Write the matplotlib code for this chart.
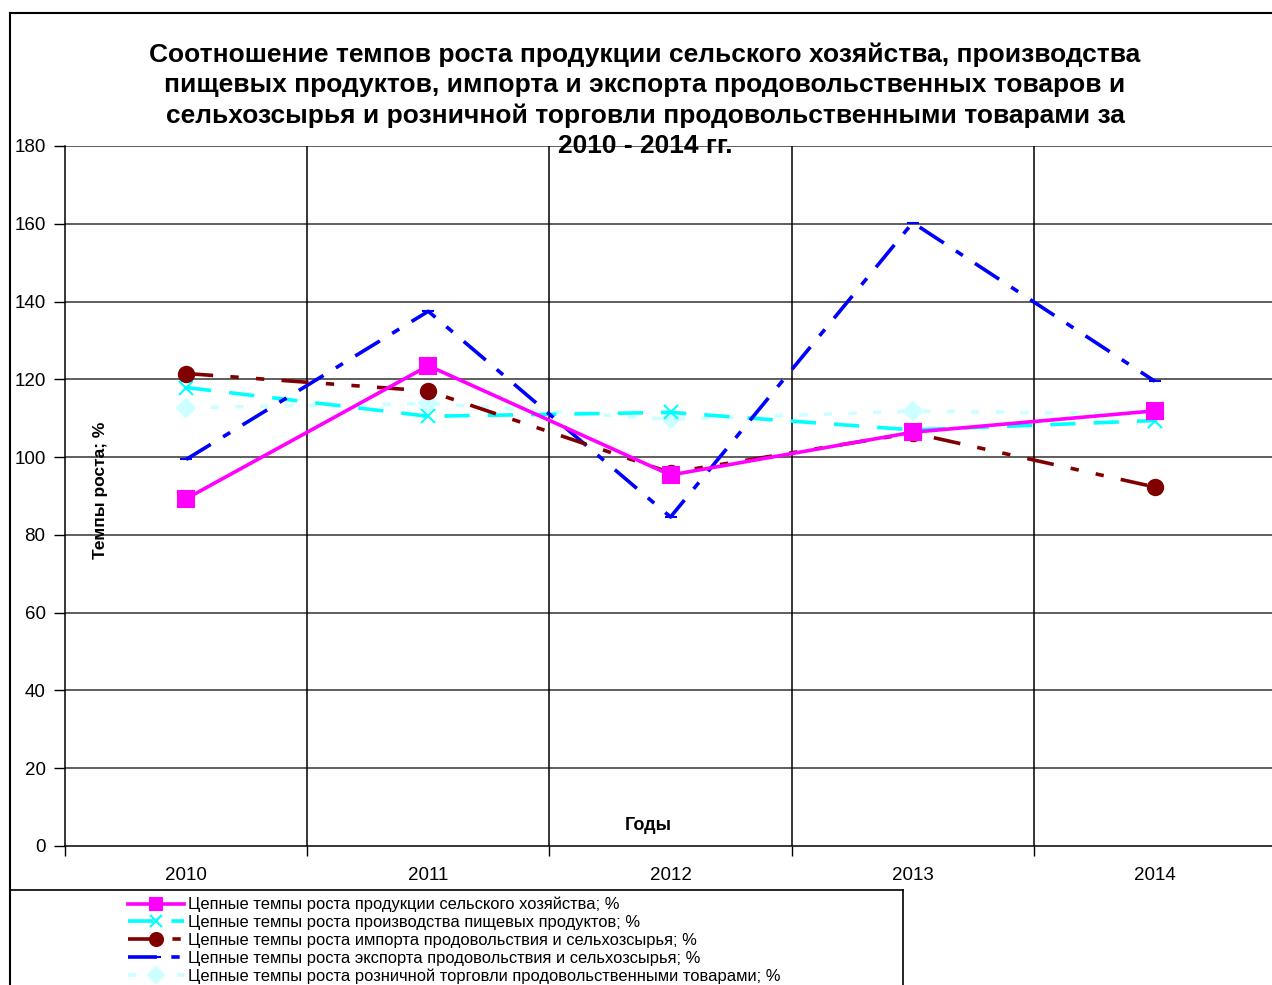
import matplotlib
matplotlib.use("Agg")
import matplotlib.pyplot as plt
import numpy as np
from matplotlib.lines import Line2D

plt.rcParams['font.family'] = ['Liberation Sans', 'DejaVu Sans']

years = ['2010', '2011', '2012', '2013', '2014']
agri = [89.3, 123.5, 95.4, 106.4, 111.9]
food = [117.9, 110.5, 111.5, 107.0, 109.4]
imports = [121.5, 117.0, 96.0, 106.2, 92.3]
exports = [99.4, 137.5, 84.6, 160.3, 119.5]
retail = [112.7, 113.8, 109.7, 111.8, 111.1]

labels = [
    'Цепные темпы роста продукции сельского хозяйства; %',
    'Цепные темпы роста производства пищевых продуктов; %',
    'Цепные темпы роста импорта продовольствия и сельхозсырья; %',
    'Цепные темпы роста экспорта продовольствия и сельхозсырья; %',
    'Цепные темпы роста розничной торговли продовольственными товарами; %',
]
title = ('Соотношение темпов роста продукции сельского хозяйства, производства\n'
         'пищевых продуктов, импорта и экспорта продовольственных товаров и\n'
         'сельхозсырья и розничной торговли продовольственными товарами за\n'
         '2010 - 2014 гг.')

W, H = 1272, 985
fig = plt.figure(figsize=(W / 100, H / 100), dpi=100)
fig.patch.set_facecolor('white')

ax = fig.add_axes([65 / W, 1 - 846 / H, (1276 - 65) / W, 700 / H])
x = np.arange(len(years))

lw = 2.6
styles = [
    dict(data=agri, color='#FF00FF', ls='-', marker='s', ms=11, mfc='#FF00FF', mec='#FF00FF'),
    dict(data=food, color='#00FFFF', ls=(0, (7, 5)), marker='x', ms=10, mfc='#00FFFF', mec='#00FFFF'),
    dict(data=imports, color='#800000', ls=(0, (7.5, 4.8, 2.3, 4.8, 2.3, 4.8)), marker='o', ms=11, mfc='#800000', mec='#800000'),
    dict(data=exports, color='#0000FF', ls=(0, (8, 4, 2.3, 4)), marker='_', ms=8, mfc='#0000FF', mec='#0000FF'),
    dict(data=retail, color='#CCFFFF', ls=(0, (2.3, 4.5)), marker='D', ms=9, mfc='#CCFFFF', mec='#CCFFFF'),
]
handles = []
order = [4, 1, 3, 2, 0]
for k, i in enumerate(order):
    s = styles[i]
    ax.plot(x, s['data'], color=s['color'], ls=s['ls'], lw=lw, marker=s['marker'],
            ms=s['ms'], mfc=s['mfc'], mec=s['mec'], mew=1.5, zorder=3 + k,
            clip_on=False)
for i, s in enumerate(styles):
    handles.append(Line2D([], [], color=s['color'], ls=s['ls'], lw=lw, marker=s['marker'],
                          ms=s['ms'] * 0.85, mfc=s['mfc'], mec=s['mec'], mew=1.5))

ax.set_xlim(-0.5, 4.5)
ax.set_ylim(0, 180)
ax.set_yticks(np.arange(0, 181, 20))
ax.set_xticks(x)
ax.set_xticklabels(years, fontsize=13.5)
ax.tick_params(axis='x', length=0, pad=15)
ax.set_xticks(np.arange(-0.5, 4.6, 1), minor=True)
ax.tick_params(axis='x', which='minor', length=7, width=1, color='black', direction='out')
ax.tick_params(axis='y', length=8, width=1, direction='out', labelsize=13.5, pad=6)
for v in np.arange(20, 181, 20):
    ax.axhline(v, color='#333333', lw=1.1, zorder=1)
for v in np.arange(0.5, 4.5, 1):
    ax.axvline(v, color='black', lw=1.1, zorder=1)
for sp in ['top', 'right']:
    ax.spines[sp].set_visible(False)
ax.spines['left'].set_linewidth(1.1)
ax.spines['bottom'].set_linewidth(1.1)

fig.text(100 / W, 1 - 490 / H, 'Темпы роста; %', rotation=90, ha='center', va='center',
         fontsize=12.5, fontweight='bold')
fig.text(648 / W, 1 - 825 / H, 'Годы', ha='center', va='center', fontsize=13, fontweight='bold')

fig.text(645 / W, 1 - 100.5 / H, title, ha='center', va='center', fontsize=19,
         fontweight='bold', linespacing=1.32)

# outer frame
fig.add_artist(Line2D([10 / W, 10 / W], [0, 1 - 13 / H], color='black', lw=1.5,
                      transform=fig.transFigure))
fig.add_artist(Line2D([10 / W, 1], [1 - 13 / H, 1 - 13 / H], color='black', lw=1.5,
                      transform=fig.transFigure))
# legend frame
fig.add_artist(Line2D([10 / W, 903 / W], [1 - 890 / H, 1 - 890 / H], color='black', lw=1.2,
                      transform=fig.transFigure))
fig.add_artist(Line2D([903 / W, 903 / W], [0, 1 - 890 / H], color='black', lw=1.2,
                      transform=fig.transFigure))

fig.legend(handles=handles, labels=labels, loc='upper left',
           bbox_to_anchor=(118 / W, 1 - 887 / H), frameon=False, fontsize=11.9,
           handlelength=3.4, handletextpad=0.25, labelspacing=0.17, borderpad=0.1,
           numpoints=1)

fig.savefig('out.png', dpi=100, facecolor='white')
